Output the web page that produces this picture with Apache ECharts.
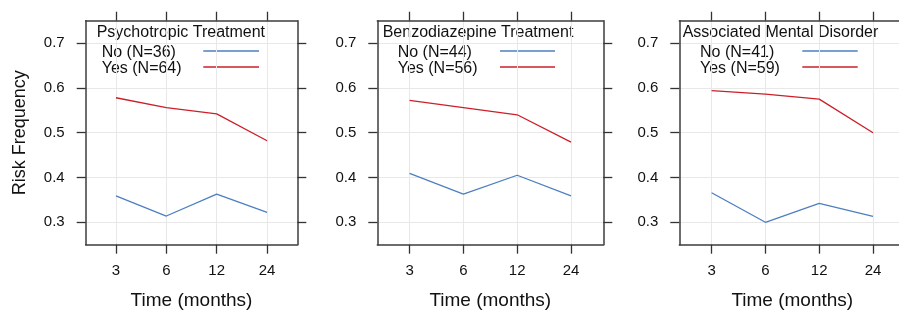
<!DOCTYPE html>
<html>
<head>
<meta charset="utf-8">
<title>Risk Frequency by time</title>
<script src="https://cdn.jsdelivr.net/npm/echarts@6/dist/echarts.min.js"></script>
<style>
  html, body { margin: 0; padding: 0; background: #fff; }
  #chart { width: 899px; height: 310px; }
</style>
</head>
<body>
<div id="chart"></div>
<script>
// x categories (months) and y tick values
const timeLabels = ["3", "6", "12", "24"];
const yTicks = [0.3, 0.4, 0.5, 0.6, 0.7];

// panel titles + legend labels
const panelTitles = ["Psychotropic Treatment", "Benzodiazepine Treatment", "Associated Mental Disorder"];
const noLabels = ["No (N=36)", "No (N=44)", "No (N=41)"];
const yesLabels = ["Yes (N=64)", "Yes (N=56)", "Yes (N=59)"];

// risk frequency, one value per time point
const psychoNo = [0.359, 0.314, 0.363, 0.322];
const psychoYes = [0.578, 0.556, 0.542, 0.482];
const benzoNo = [0.409, 0.363, 0.405, 0.359];
const benzoYes = [0.572, 0.556, 0.540, 0.479];
const mentalNo = [0.366, 0.300, 0.342, 0.313];
const mentalYes = [0.594, 0.586, 0.575, 0.500];

const noSeries = [psychoNo, benzoNo, mentalNo];
const yesSeries = [psychoYes, benzoYes, mentalYes];

const BLUE = "#4d7fc0";
const RED = "#cc1f29";
const TEXT = "#111";
const FONT = "Liberation Sans, Arial, Helvetica, sans-serif";

// panel geometry (px) and where the key sits inside each panel
const TOP = 20.7;
const HEIGHT = 224;
const panels = [
  { left: 85.7, width: 211.6, titleDx: 11, entryDx: 16, keyX0: 117.6, keyX1: 173.3 },
  { left: 377.3, width: 226, titleDx: 5.4, entryDx: 20.4, keyX0: 122.7, keyX1: 177.7 },
  { left: 679.3, width: 226, titleDx: 3.4, entryDx: 20.7, keyX0: 123, keyX1: 178.4 },
];

const xIdx = timeLabels.map((_, i) => i);
const tickLine = { show: true, length: 9, inside: false, lineStyle: { color: "#333", width: 1.3 } };
const boxLine = { show: true, onZero: false, lineStyle: { color: "#3c3c3c", width: 1.5 } };
const gridLine = { show: true, lineStyle: { color: "#e8e8e8", width: 1 } };

const grids = [];
const xAxes = [];
const yAxes = [];
const series = [];
const graphics = [];

panels.forEach((p, i) => {
  // outerBoundsMode none: keep the box where it is (v6 would shrink it otherwise)
  grids.push({
    left: p.left, top: TOP, width: p.width, height: HEIGHT,
    containLabel: false, outerBoundsMode: "none",
  });

  // bottom x axis with labels + top x axis with ticks only
  xAxes.push({
    type: "value", gridIndex: i, position: "bottom", min: -0.6, max: 3.6,
    axisLine: boxLine,
    axisTick: Object.assign({ customValues: xIdx }, tickLine),
    axisLabel: {
      customValues: xIdx, margin: 19, fontSize: 15, color: TEXT, fontFamily: FONT,
      formatter: (v) => timeLabels[Math.round(v)],
    },
    splitLine: gridLine,
    name: "Time (months)", nameLocation: "middle", nameGap: 47,
    nameTextStyle: { fontSize: 19, color: TEXT, fontFamily: FONT },
  });
  xAxes.push({
    type: "value", gridIndex: i, position: "top", min: -0.6, max: 3.6,
    axisLine: boxLine,
    axisTick: Object.assign({ customValues: xIdx }, tickLine),
    axisLabel: { show: false },
    splitLine: { show: false },
  });

  // left y axis with labels + right y axis with ticks only
  yAxes.push({
    type: "value", gridIndex: i, position: "left", min: 0.25, max: 0.75,
    axisLine: boxLine,
    axisTick: Object.assign({ customValues: yTicks }, tickLine),
    axisLabel: {
      customValues: yTicks, margin: 21, fontSize: 15, color: TEXT, fontFamily: FONT,
      formatter: (v) => v.toFixed(1),
    },
    splitLine: gridLine,
    name: i === 0 ? "Risk Frequency" : "",
    nameLocation: "middle", nameGap: 57,
    nameTextStyle: { fontSize: 18, color: TEXT, fontFamily: FONT },
  });
  yAxes.push({
    type: "value", gridIndex: i, position: "right", min: 0.25, max: 0.75,
    axisLine: boxLine,
    axisTick: Object.assign({ customValues: yTicks }, tickLine),
    axisLabel: { show: false },
    splitLine: { show: false },
  });

  const lines = [
    { name: noLabels[i], data: noSeries[i], color: BLUE },
    { name: yesLabels[i], data: yesSeries[i], color: RED },
  ];
  lines.forEach((l) => {
    series.push({
      name: l.name,
      type: "line",
      xAxisIndex: i * 2,
      yAxisIndex: i * 2,
      data: l.data.map((v, k) => [k, v]),
      symbol: "none",
      lineStyle: { color: l.color, width: 1.3 },
      itemStyle: { color: l.color },
      silent: true,
      animation: false,
    });
  });

  // key: title, then two rows of label + line sample
  graphics.push({
    type: "text", x: p.left + p.titleDx, y: 32.3,
    style: { text: panelTitles[i], font: "16px " + FONT, fill: TEXT, verticalAlign: "middle" },
  });
  [noLabels[i], yesLabels[i]].forEach((lab, r) => {
    const cy = 52.3 + r * 16;
    graphics.push({
      type: "text", x: p.left + p.entryDx, y: cy,
      style: { text: lab, font: "16px " + FONT, fill: TEXT, verticalAlign: "middle" },
    });
    graphics.push({
      type: "line",
      shape: { x1: p.left + p.keyX0, y1: cy - 1.3, x2: p.left + p.keyX1, y2: cy - 1.3 },
      style: { stroke: r === 0 ? BLUE : RED, lineWidth: 1.3 },
    });
  });
});

const chart = echarts.init(document.getElementById("chart"), null, { renderer: "canvas" });
chart.setOption({
  animation: false,
  textStyle: { fontFamily: FONT },
  grid: grids,
  xAxis: xAxes,
  yAxis: yAxes,
  series: series,
  graphic: graphics,
});
</script>
</body>
</html>
